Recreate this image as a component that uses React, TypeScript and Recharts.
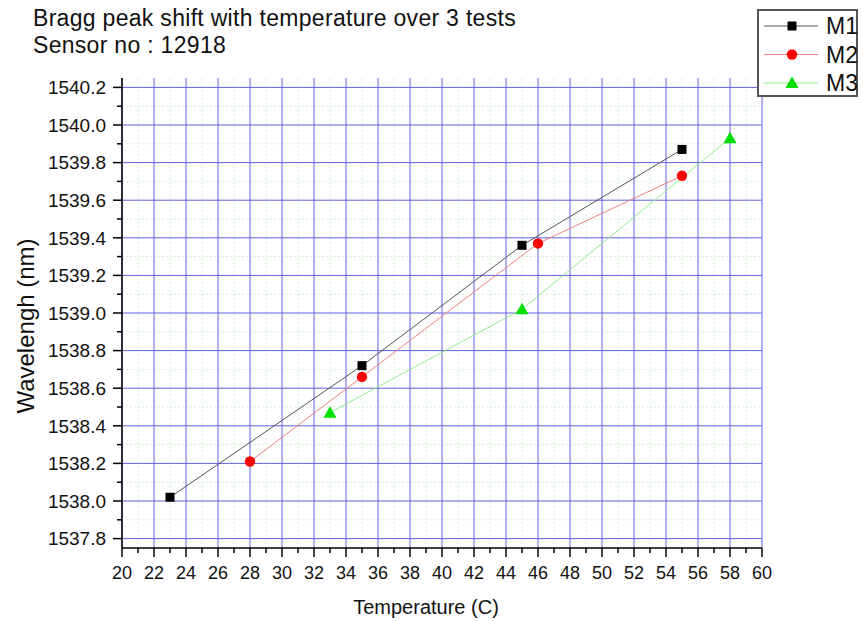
import { LineChart, Line, XAxis, YAxis, CartesianGrid, Legend } from 'recharts';

// measured Bragg wavelengths per run
const m1Temp = [23, 35, 45, 55];
const m1Wave = [1538.02, 1538.72, 1539.36, 1539.87];
const m2Temp = [28, 35, 46, 55];
const m2Wave = [1538.21, 1538.66, 1539.37, 1539.73];
const m3Temp = [33, 45, 58];
const m3Wave = [1538.47, 1539.02, 1539.93];

const xMajor = [20, 22, 24, 26, 28, 30, 32, 34, 36, 38, 40, 42, 44, 46, 48, 50, 52, 54, 56, 58, 60];
const yMajor = [1537.8, 1538.0, 1538.2, 1538.4, 1538.6, 1538.8, 1539.0, 1539.2, 1539.4, 1539.6, 1539.8, 1540.0, 1540.2];

const midpoints = (arr: number[]) => arr.slice(1).map((v, i) => Math.round(((v + arr[i]) / 2) * 100) / 100);
const xMinor = midpoints(xMajor);
const yMinor = midpoints(yMajor);
const xTicks = [...xMajor, ...xMinor].sort((a, b) => a - b);
const yTicks = [...yMajor, ...yMinor].sort((a, b) => a - b);

const toPoints = (t: number[], w: number[]) => t.map((temp, i) => ({ temp, wave: w[i] }));
const m1 = toPoints(m1Temp, m1Wave);
const m2 = toPoints(m2Temp, m2Wave);
const m3 = toPoints(m3Temp, m3Wave);

const FONT = '"Liberation Sans", Arial, sans-serif';

const Square = ({ cx, cy, fill }: any) => <rect x={cx - 4.5} y={cy - 4.5} width={9} height={9} fill={fill} />;
const Circle = ({ cx, cy, fill }: any) => <circle cx={cx} cy={cy} r={5.2} fill={fill} />;
const Triangle = ({ cx, cy, fill }: any) => (
  <polygon points={`${cx},${cy - 6.5} ${cx - 6.5},${cy + 5} ${cx + 6.5},${cy + 5}`} fill={fill} />
);

const series = [
  { key: 'M1', data: m1, line: '#555555', mark: '#000000', Marker: Square },
  { key: 'M2', data: m2, line: '#f08080', mark: '#ff0000', Marker: Circle },
  { key: 'M3', data: m3, line: '#90ee90', mark: '#00e000', Marker: Triangle },
];

const isMajorX = (v: number) => xMajor.includes(v);
const isMajorY = (v: number) => yMajor.some((m) => Math.abs(m - v) < 1e-6);

const XTick = ({ x, y, payload }: any) => {
  const major = isMajorX(payload.value);
  return (
    <g>
      <line x1={x} x2={x} y1={y} y2={y + (major ? 9 : 5)} stroke="#000" strokeWidth={1.5} />
      {major && (
        <text x={x} y={y + 31} textAnchor="middle" fontSize={18} fill="#111" fontFamily={FONT}>
          {payload.value}
        </text>
      )}
    </g>
  );
};

const YTick = ({ x, y, payload }: any) => {
  const major = isMajorY(payload.value);
  return (
    <g>
      <line x1={x} x2={x - (major ? 9 : 5)} y1={y} y2={y} stroke="#000" strokeWidth={1.5} />
      {major && (
        <text x={x - 16} y={y} dy="0.36em" textAnchor="end" fontSize={19} fill="#111" fontFamily={FONT}>
          {Number(payload.value).toFixed(1)}
        </text>
      )}
    </g>
  );
};

const LegendBox = () => (
  <div
    style={{
      width: 101,
      height: 88,
      border: '2px solid #555',
      background: '#fff',
      boxSizing: 'border-box',
    }}
  >
    <svg width={99} height={86} style={{ display: 'block' }}>
      {series.map((s, i) => {
        const cy = 15 + i * 28.5;
        return (
          <g key={s.key}>
            <line x1={5} x2={59} y1={cy} y2={cy} stroke={s.line} strokeWidth={1} />
            <s.Marker cx={33} cy={cy} fill={s.mark} />
            <text x={67} y={cy} dy="0.36em" fontSize={23} fill="#111" fontFamily={FONT}>
              {s.key}
            </text>
          </g>
        );
      })}
    </svg>
  </div>
);

export default function App() {
  return (
    <div style={{ position: 'absolute', left: 0, top: 0, width: 862, height: 621, background: '#fff', fontFamily: FONT }}>
      <div
        style={{
          position: 'absolute',
          left: 33,
          top: 5,
          fontSize: 23,
          letterSpacing: 0.3,
          lineHeight: '27px',
          color: '#111',
          whiteSpace: 'nowrap',
        }}
      >
        <div>Bragg peak shift with temperature over 3 tests</div>
        <div>Sensor no : 12918</div>
      </div>
      <LineChart width={862} height={621} margin={{ top: 78, right: 100, bottom: 0, left: 22 }}>
        <CartesianGrid
          horizontalValues={yMinor}
          verticalValues={xMinor}
          stroke="#d6f2d6"
          strokeDasharray="2 2"
        />
        <CartesianGrid horizontalValues={yMajor} verticalValues={xMajor} stroke="#6262e4" strokeWidth={1} />
        <XAxis
          type="number"
          dataKey="temp"
          domain={[20, 60]}
          ticks={xTicks}
          interval={0}
          height={73}
          tickSize={0}
          tickMargin={0}
          tickLine={false}
          tick={<XTick />}
          axisLine={{ stroke: '#000', strokeWidth: 1.5 }}
          allowDataOverflow
        />
        <YAxis
          type="number"
          dataKey="wave"
          domain={[1537.75, 1540.25]}
          ticks={yTicks}
          interval={0}
          width={100}
          tickSize={0}
          tickMargin={0}
          tickLine={false}
          tick={<YTick />}
          axisLine={{ stroke: '#000', strokeWidth: 1.5 }}
          allowDataOverflow
        />
        <Legend
          layout="horizontal"
          align="center"
          verticalAlign="middle"
          content={<LegendBox />}
          wrapperStyle={{ position: 'absolute', left: 757, top: 9, width: 101, height: 88 }}
        />
        {series.map((s) => (
          <Line
            key={s.key}
            name={s.key}
            data={s.data}
            dataKey="wave"
            type="linear"
            stroke={s.line}
            strokeWidth={1}
            isAnimationActive={false}
            dot={(p: any) => <s.Marker key={`${s.key}-${p.index}`} cx={p.cx} cy={p.cy} fill={s.mark} />}
            activeDot={false}
          />
        ))}
      </LineChart>
      <div
        style={{
          position: 'absolute',
          left: 426,
          top: 607,
          transform: 'translate(-50%, -50%)',
          fontSize: 20,
          color: '#111',
          whiteSpace: 'nowrap',
        }}
      >
        Temperature (C)
      </div>
      <div
        style={{
          position: 'absolute',
          left: 26,
          top: 326,
          transform: 'translate(-50%, -50%) rotate(-90deg)',
          fontSize: 24,
          color: '#111',
          whiteSpace: 'nowrap',
        }}
      >
        Wavelengh (nm)
      </div>
    </div>
  );
}
